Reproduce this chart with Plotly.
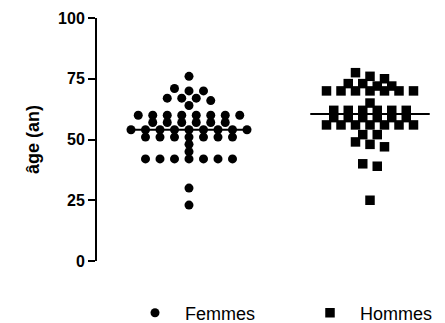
import numpy as np
import plotly.graph_objects as go

# ---- data ----
groups = ["Femmes", "Hommes"]
femmes = [76,
          71, 70, 70,
          67, 67, 67, 66,
          64,
          60, 60, 60, 60, 60, 60, 60, 60,
          57, 57, 57, 57, 57, 57,
          54, 54, 54, 54, 54, 54, 54, 54, 54,
          51, 51, 51, 51, 51, 51, 51,
          48, 45,
          42, 42, 42, 42, 42, 42, 42,
          30, 23]
hommes = [77.5, 76, 75,
          73, 73, 72, 72,
          70, 70, 70, 70, 70, 70, 70,
          65,
          62, 62, 62, 62, 62, 62,
          59, 59, 59, 59, 59, 59,
          56, 56, 56, 56, 56, 56, 56,
          52, 52,
          49, 48, 47,
          40, 39,
          25]
series = [femmes, hommes]
symbols = ["circle", "square"]

# ---- layout geometry (pixels) ----
W, H = 445, 323
ML, MR, MT, MB = 97, 5, 18, 62
PW, PH = W - ML - MR, H - MT - MB
PX_X = 181.0                     # pixels per category step
C0 = 189 - ML                    # pixel position of first category inside plot
XR = [-C0 / PX_X, (PW - C0) / PX_X]
STEP = 14.5                      # horizontal spacing of points in a row (px)
ROW_TOL = 2.9                    # values closer than this share a row


def rows_layout(vals):
    vals = np.asarray(vals, dtype=float)
    order = np.argsort(-vals, kind="stable")
    offs = np.zeros(len(vals))
    rows, cur, top = [], [], None
    for i in order:
        if top is None or top - vals[i] < ROW_TOL:
            if top is None:
                top = vals[i]
            cur.append(i)
        else:
            rows.append(cur)
            cur, top = [i], vals[i]
    rows.append(cur)
    for r in rows:
        n = len(r)
        for k, i in enumerate(r):
            offs[i] = (k - (n - 1) / 2) * STEP / PX_X
    return offs


fig = go.Figure()
for gi, (name, vals, sym) in enumerate(zip(groups, series, symbols)):
    offs = rows_layout(vals)
    fig.add_trace(go.Scatter(
        x=gi + offs, y=vals, mode="markers", name=name,
        marker=dict(symbol=sym, size=9 if sym == "circle" else 9.5, color="black",
                    line=dict(width=0)),
        cliponaxis=False,
        legendwidth=110 if gi == 0 else 80,
    ))
for gi, vals in enumerate(series):
    med = float(np.median(vals))
    fig.add_trace(go.Scatter(
        x=[gi - 0.33, gi + 0.33], y=[med, med], mode="lines",
        line=dict(color="black", width=2), showlegend=False, hoverinfo="skip",
    ))

fig.update_layout(
    template="none",
    width=W, height=H,
    margin=dict(l=ML, r=MR, t=MT, b=MB, pad=0, autoexpand=False),
    paper_bgcolor="white", plot_bgcolor="white",
    font=dict(family="Liberation Sans, Arial, sans-serif", color="#000000"),
    showlegend=True,
    legend=dict(orientation="h", x=(125 - ML) / PW, xanchor="left",
                y=(MT + PH - 313) / PH, yanchor="middle",
                itemwidth=50,
                font=dict(size=18, color="#000000"),
                bgcolor="rgba(0,0,0,0)"),
    xaxis=dict(range=XR, visible=False, fixedrange=True),
    yaxis=dict(range=[0, 100], tickvals=[0, 25, 50, 75, 100],
               showline=True, linecolor="black", linewidth=2,
               ticks="outside", ticklen=7, tickwidth=2, tickcolor="black",
               showgrid=False, zeroline=False,
               tickfont=dict(size=16, weight="bold", color="#000000"),
               title=dict(text="âge (an)",
                          font=dict(size=18, weight="bold", color="#000000"),
                          standoff=14)),
)

fig.write_html("out.html")
